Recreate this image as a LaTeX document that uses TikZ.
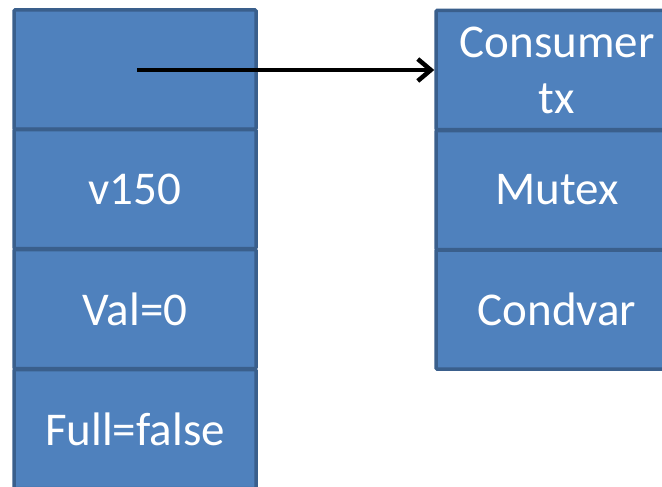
\documentclass[tikz,border=0pt]{standalone}
\usepackage{fontspec}
\setmainfont{Carlito}
\usetikzlibrary{arrows.meta}
\definecolor{cellfill}{HTML}{4F81BD}
\definecolor{cellline}{HTML}{3A5F8C}
\begin{document}
\begin{tikzpicture}[x=1pt,y=-1pt,
  cell/.style={draw=cellline, fill=cellfill, line width=3.5pt,
    minimum width=242pt, minimum height=119pt, inner sep=0pt,
    text=white, font=\fontsize{47}{56}\selectfont, align=center,
    rounded corners=1pt},
  pointer/.style={line width=4.5pt, -{Straight Barb[length=13pt,width=22pt,line width=4.5pt]}}]
\useasboundingbox (0,0) rectangle (662,487);
\clip (0,0) rectangle (662,487);
\fill[white] (0,0) rectangle (662,487);
% left record
\node[cell] (ptr)  at (135,69.5)  {};
\node[cell] (name) at (135,189)   {v150};
\node[cell] (val)  at (135,309)   {Val=0};
\node[cell] (full) at (135,429)   {Full=false};
% right record
\node[cell] (cons) at (557,70)    {Consumer\\tx};
\node[cell] (mtx)  at (557,190)   {Mutex};
\node[cell] (cv)   at (557,309.5) {Condvar};
% reference from the first slot to the consumer record
\coordinate (src) at (137,70);
\draw[pointer] (src) -- (cons.west);
\end{tikzpicture}
\end{document}
